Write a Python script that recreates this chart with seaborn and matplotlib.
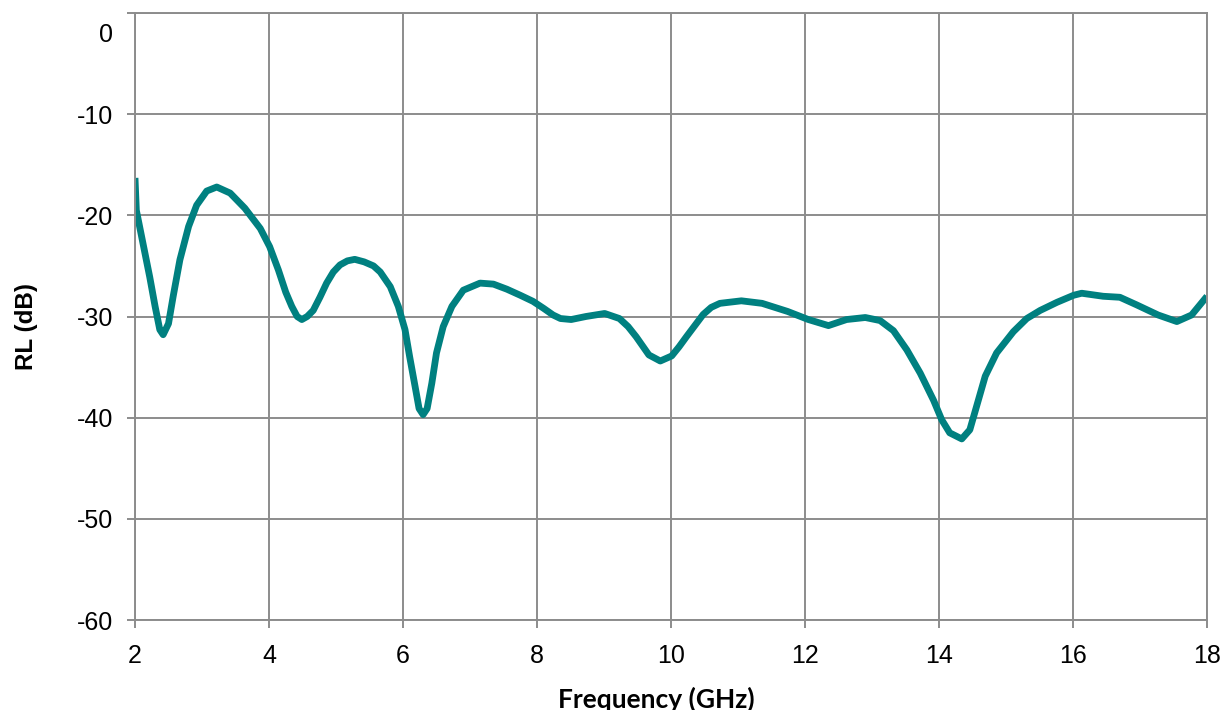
import matplotlib
matplotlib.use("Agg")

import matplotlib.pyplot as plt
import matplotlib.transforms as mtransforms
import pandas as pd
import seaborn as sns

# return loss trace
freq_ghz = [
    2.00, 2.02, 2.12, 2.22, 2.30, 2.37, 2.42, 2.50, 2.57, 2.67, 2.80, 2.92,
    3.07, 3.22, 3.42, 3.64, 3.87, 4.01, 4.14, 4.25, 4.34, 4.42, 4.49, 4.57,
    4.66, 4.76, 4.86, 4.96, 5.06, 5.17, 5.28, 5.42, 5.56, 5.66, 5.81, 5.93,
    6.03, 6.10, 6.18, 6.24, 6.30, 6.36, 6.43, 6.50, 6.60, 6.73, 6.90, 7.15,
    7.35, 7.55, 7.75, 7.94, 8.10, 8.24, 8.35, 8.51, 8.73, 9.01, 9.23, 9.36,
    9.48, 9.67, 9.84, 10.01, 10.12, 10.23, 10.48, 10.60, 10.73, 11.05, 11.36,
    11.74, 12.05, 12.35, 12.62, 12.90, 13.12, 13.32, 13.52, 13.72, 13.92,
    14.04, 14.16, 14.34, 14.46, 14.56, 14.69, 14.86, 15.11, 15.31, 15.51,
    15.76, 16.01, 16.13, 16.45, 16.70, 16.95, 17.27, 17.55, 17.77, 18.00,
]
rl_db = [
    -16.3, -19.5, -22.8, -26.1, -29.0, -31.3, -31.8, -30.7, -28.0, -24.4,
    -21.1, -19.0, -17.6, -17.2, -17.8, -19.3, -21.3, -23.1, -25.4, -27.6,
    -29.0, -30.0, -30.3, -30.0, -29.4, -28.1, -26.7, -25.6, -24.9, -24.5,
    -24.35, -24.6, -25.0, -25.6, -27.05, -29.0, -31.3, -34.0, -36.9, -39.1,
    -39.7, -39.1, -36.6, -33.6, -31.0, -29.0, -27.4, -26.7, -26.8, -27.3,
    -27.9, -28.5, -29.2, -29.85, -30.2, -30.3, -30.0, -29.7, -30.2, -31.0,
    -32.0, -33.8, -34.4, -33.9, -33.0, -32.0, -29.8, -29.1, -28.7, -28.45,
    -28.7, -29.5, -30.3, -30.9, -30.3, -30.1, -30.4, -31.4, -33.3, -35.6,
    -38.3, -40.2, -41.5, -42.1, -41.2, -38.9, -35.9, -33.6, -31.5, -30.2,
    -29.4, -28.6, -27.9, -27.7, -28.0, -28.1, -28.85, -29.85, -30.5, -29.85,
    -28.0,
]
x_ticks = [2, 4, 6, 8, 10, 12, 14, 16, 18]
y_ticks = [0, -10, -20, -30, -40, -50, -60]

LINE_COLOR = "#008080"
GRID_COLOR = "#8c8c8c"


def main():
    sns.set_theme(style="white")
    plt.rcParams["font.family"] = ["Liberation Sans", "DejaVu Sans"]

    df = pd.DataFrame({"freq": freq_ghz, "rl": rl_db})

    fig = plt.figure(figsize=(12.23, 7.10), dpi=100)
    ax = fig.add_axes([135 / 1223, 90 / 710, 1072 / 1223, 607 / 710])

    sns.lineplot(data=df, x="freq", y="rl", ax=ax, color=LINE_COLOR,
                 linewidth=4.9, estimator=None, sort=False,
                 solid_joinstyle="round", solid_capstyle="butt")

    ax.set_xlim(2, 18)
    ax.set_ylim(-60, 0)
    ax.set_xticks(x_ticks)
    ax.set_yticks(y_ticks)
    ax.set_xticklabels([str(t) for t in x_ticks])
    ax.set_yticklabels([str(t) for t in y_ticks])
    ax.grid(True, color=GRID_COLOR, linewidth=1.4)
    ax.set_axisbelow(True)
    for side in ax.spines.values():
        side.set_color(GRID_COLOR)
        side.set_linewidth(1.4)
    ax.tick_params(axis="both", which="major", direction="out", length=5.5,
                   width=1.4, color=GRID_COLOR, labelsize=18, labelcolor="black",
                   left=True, bottom=True)
    ax.tick_params(axis="y", pad=10)
    ax.tick_params(axis="x", pad=12)

    # the top label sits below its gridline, as in the original
    top_label = ax.get_yticklabels()[0]
    top_label.set_transform(top_label.get_transform() +
                            mtransforms.ScaledTranslation(0, -20 / 100, fig.dpi_scale_trans))

    ax.set_xlabel("")
    ax.set_ylabel("")
    fig.text(656 / 1223, 1 - 699 / 710, "Frequency (GHz)", ha="center", va="center",
             fontsize=19, fontweight="bold", color="black",
             family=["Lato", "DejaVu Sans"])
    fig.text(26 / 1223, 1 - 326 / 710, "RL (dB)", ha="center", va="center",
             rotation=90, fontsize=17.5, fontweight="bold", color="black")

    fig.savefig("out.png", dpi=100)
    plt.close(fig)


if __name__ == "__main__":
    main()
